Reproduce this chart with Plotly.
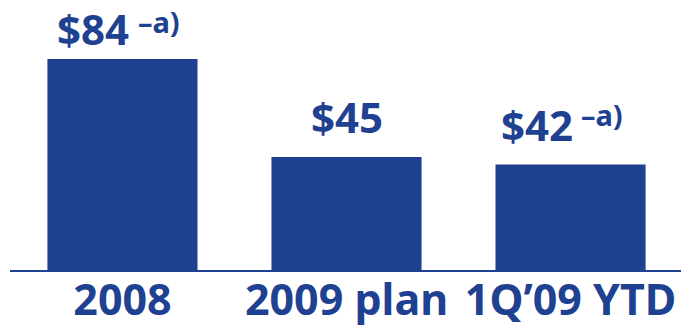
import plotly.graph_objects as go

# Annual figures ($) by period
categories = ["2008", "2009 plan", "1Q\u201909 YTD"]
values = [84, 45, 42]
value_labels = ["$84", "$45", "$42"]
footnotes = ["\u2013a)", "", "\u2013a)"]
label_lift = [0, 10, 10]     # pixels between bar top and its label
label_nudge = [9, 0, 4]      # horizontal nudge of each value label
note_nudge = [14, 0, 8]      # horizontal nudge of each footnote mark
note_lift = [16, 0, 19]      # footnote mark height above its label's base

BLUE = "#1f4191"
FONT = "Noto Sans"

fig = go.Figure(
    go.Bar(
        x=categories,
        y=values,
        marker=dict(color=BLUE, line=dict(width=0)),
        width=0.67,
    )
)

# category axis positions are the index of each category
for i, (val, lab, note, lift, dx, ndx, nl) in enumerate(
        zip(values, value_labels, footnotes, label_lift, label_nudge,
            note_nudge, note_lift)):
    if note:
        fig.add_annotation(
            x=i, y=val, text=f"<b>{lab}</b>", showarrow=False,
            xanchor="right", yanchor="bottom", xshift=dx, yshift=lift,
            font=dict(family=FONT, size=42, color=BLUE),
        )
        fig.add_annotation(
            x=i, y=val, text=f"<b>{note}</b>", showarrow=False,
            xanchor="left", yanchor="bottom", xshift=ndx, yshift=lift + nl,
            font=dict(family=FONT, size=29, color=BLUE),
        )
    else:
        fig.add_annotation(
            x=i, y=val, text=f"<b>{lab}</b>", showarrow=False,
            xanchor="center", yanchor="bottom", xshift=dx, yshift=lift,
            font=dict(family=FONT, size=42, color=BLUE),
        )

fig.update_layout(
    width=681, height=329,
    margin=dict(l=10, r=0, t=0, b=59),
    paper_bgcolor="white", plot_bgcolor="white",
    showlegend=False,
    xaxis=dict(
        range=[-0.502, 2.493],
        showline=True, linecolor=BLUE, linewidth=1.5,
        showgrid=False, ticks="", automargin=False, ticklabelstandoff=-8,
        tickfont=dict(family=FONT, size=43, color=BLUE, weight="bold"),
    ),
    yaxis=dict(range=[0, 107.5], visible=False, showgrid=False,
               zeroline=False, automargin=False),
)

fig.write_html("out.html")
